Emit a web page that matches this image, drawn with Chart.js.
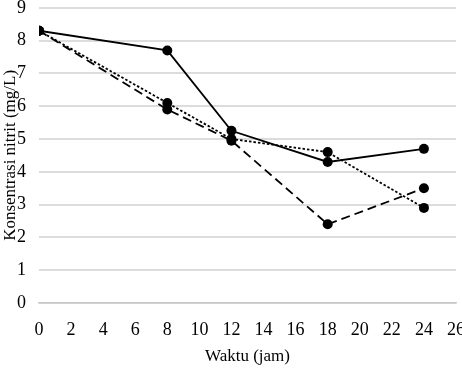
<!DOCTYPE html>
<html>
<head>
<meta charset="utf-8">
<script src="https://cdn.jsdelivr.net/npm/chart.js@4"></script>
<style>
  html, body { margin: 0; padding: 0; background: #fff; overflow: hidden; }
  body { width: 462px; height: 368px; position: relative; }
  #wrap { position: absolute; left: 0; top: -16px; width: 481px; height: 384px; }
</style>
</head>
<body>
<div id="wrap"><canvas id="chart"></canvas></div>
<script>
// Data
const waktu = [0, 8, 12, 18, 24];
const seriSolid = [8.3, 7.7, 5.25, 4.3, 4.7];
const seriTitik = [8.3, 6.1, 5.0, 4.6, 2.9];
const seriPutus = [8.3, 5.9, 4.95, 2.4, 3.5];

function toPoints(values) {
    return waktu.map((x, i) => ({ x: x, y: values[i] }));
}

function dataset(values, dash) {
    return {
        data: toPoints(values),
        borderColor: '#000',
        backgroundColor: '#000',
        borderWidth: 1.8,
        borderDash: dash,
        pointRadius: 5,
        pointBorderWidth: 0,
        tension: 0
    };
}

const serif = 'Liberation Serif, Times New Roman, serif';

new Chart(document.getElementById('chart'), {
    type: 'line',
    data: {
        datasets: [
            dataset(seriSolid, []),
            dataset(seriTitik, [2.5, 2]),
            dataset(seriPutus, [9, 5])
        ]
    },
    options: {
        responsive: true,
        maintainAspectRatio: false,
        animation: false,
        layout: { padding: { top: 0, right: 0, left: 0, bottom: 0 } },
        plugins: { legend: { display: false }, tooltip: { enabled: false } },
        scales: {
            x: {
                type: 'linear',
                min: 0,
                max: 26,
                afterFit: (scale) => { scale.height = 65; },
                ticks: { stepSize: 2, color: '#000', font: { family: serif, size: 18 }, padding: 16 },
                grid: { display: false, drawTicks: false },
                border: { color: '#c8c8c8', width: 1.5 },
                title: { display: true, text: 'Waktu (jam)', color: '#000', font: { family: serif, size: 17 }, padding: { top: 0, bottom: 1 } }
            },
            y: {
                min: 0,
                max: 9,
                afterFit: (scale) => { scale.width = 39; },
                ticks: { stepSize: 1, color: '#000', font: { family: serif, size: 18 }, padding: 13 },
                grid: { color: '#dcdcdc', lineWidth: 2, drawTicks: false },
                border: { display: false },
                title: { display: true, text: 'Konsentrasi nitrit (mg/L)', color: '#000', font: { family: serif, size: 17 }, padding: { top: 0, bottom: 0 } }
            }
        }
    }
});
</script>
</body>
</html>
